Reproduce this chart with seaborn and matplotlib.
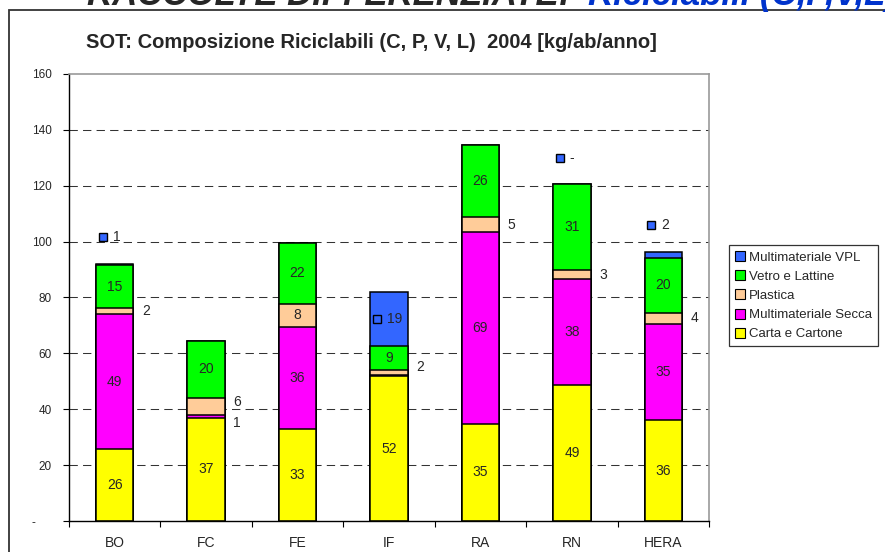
import numpy as np
import matplotlib
matplotlib.use('Agg')
import matplotlib.pyplot as plt
from matplotlib.patches import Patch, Rectangle
import seaborn as sns


sns.set_theme(style='white')
plt.rcParams['font.family'] = ['Liberation Sans', 'DejaVu Sans']

# dati (kg/ab/anno)
comuni = ['BO', 'FC', 'FE', 'IF', 'RA', 'RN', 'HERA']
carta = [25.6, 36.9, 33.1, 51.8, 34.8, 48.6, 36.0]
secca = [48.6, 1.2, 36.3, 0.5, 68.6, 37.9, 34.6]
plastica = [1.9, 6.0, 8.4, 1.6, 5.4, 3.4, 3.9]
vetro = [15.4, 20.4, 21.6, 8.6, 25.7, 30.7, 19.8]
vpl = [0.6, np.nan, np.nan, 19.4, np.nan, 0.0, 2.1]

serie = ['Carta e Cartone', 'Multimateriale Secca', 'Plastica',
         'Vetro e Lattine', 'Multimateriale VPL']
colori = ['#FFFF00', '#FF00FF', '#FFCC99', '#00FF00', '#3366FF']
yticks = [0, 20, 40, 60, 80, 100, 120, 140, 160]
ytick_labels = ['-     ', '20', '40', '60', '80', '100', '120', '140', '160']

# spostamento verticale di alcune etichette esterne
nudge = {('FC', 'Plastica'): 1.4, ('FC', 'Multimateriale Secca'): -2.6,
         ('IF', 'Plastica'): 2.2}

valori = np.array([carta, secca, plastica, vetro,
                   np.nan_to_num(vpl)])
cum = valori.cumsum(axis=0)

fig = plt.figure(figsize=(8.85, 5.52), dpi=100)
ax = fig.add_axes([69 / 885, 1 - 521 / 552, 640 / 885, 447 / 552])

# barre cumulative, dalla piu alta alla piu bassa
for i in range(len(serie) - 1, -1, -1):
    sns.barplot(x=comuni, y=cum[i], color=colori[i], saturation=1,
                edgecolor='black', linewidth=1.1, width=0.41, ax=ax)

x = np.arange(len(comuni))
for i, nome in enumerate(serie[:-1]):
    for j, c in enumerate(comuni):
        v = valori[i, j]
        if v < 1:
            continue
        centro = cum[i, j] - v / 2
        if v < 7:
            ax.text(x[j] + 0.34, centro + nudge.get((c, nome), 0),
                    f'{v:.0f}', ha='center', va='center', fontsize=10)
        else:
            ax.text(x[j], centro, f'{v:.0f}', ha='center', va='center',
                    fontsize=10)

# etichette VPL con chiave di legenda
for j, v in enumerate(vpl):
    if np.isnan(v):
        continue
    if v > 5:
        y = cum[3, j] + v / 2
    else:
        y = cum[4, j] + 9.5
    ax.plot(x[j] - 0.13, y, marker='s', ms=6, mfc=colori[4], mec='black',
            mew=1, ls='none')
    ax.annotate(f'{v:.0f}' if v >= 0.5 else '-', (x[j] - 0.13, y),
                xytext=(7, 0), textcoords='offset points', ha='left',
                va='center', fontsize=10)

ax.set_xlim(-0.5, len(comuni) - 0.5)
ax.set_ylim(0, 160)
ax.set_yticks(yticks)
ax.set_yticklabels(ytick_labels)
ax.set_xticks(x)
ax.set_xticks(np.arange(-0.5, len(comuni)), minor=True)
ax.tick_params(axis='x', which='major', length=0, pad=11, labelsize=10)
ax.tick_params(axis='x', which='minor', bottom=True, length=4.5,
               width=0.8, color='black', direction='out')
ax.tick_params(axis='y', left=True, length=4.5, width=0.8, color='black',
               direction='out', pad=8, labelsize=8.5)
ax.set_xlabel('')
ax.set_ylabel('')

for g in yticks[1:-1]:
    ax.axhline(g, color='#333333', lw=0.75, ls=(0, (8, 5)), zorder=0)
ax.set_axisbelow(True)

for s in ['left', 'bottom']:
    ax.spines[s].set_color('black')
    ax.spines[s].set_linewidth(1)
for s in ['top', 'right']:
    ax.spines[s].set_color('#999999')
    ax.spines[s].set_linewidth(1.2)

handles = [Patch(facecolor=colori[i], edgecolor='black', lw=0.8,
                 label=serie[i]) for i in range(len(serie) - 1, -1, -1)]
leg = fig.legend(handles=handles, loc='upper left',
                 bbox_to_anchor=(729 / 885, 1 - 245 / 552),
                 bbox_transform=fig.transFigure, fontsize=9.5,
                 frameon=True, fancybox=False, framealpha=1,
                 edgecolor='#333333', handlelength=0.8, handleheight=0.8,
                 handletextpad=0.25, labelspacing=0.5, borderpad=0.45,
                 borderaxespad=0)
leg.get_frame().set_linewidth(0.9)

fig.add_artist(Rectangle((9 / 885, -0.05), 1.2, 1 - 10 / 552 + 0.05,
                         transform=fig.transFigure, fill=False,
                         edgecolor='#333333', lw=1.3))

fig.text(87 / 885, 1 - 5 / 552, 'RACCOLTE DIFFERENZIATE:', fontsize=25,
         fontweight='bold', fontstyle='italic', va='baseline')
fig.text(588 / 885, 1 - 5 / 552, 'Riciclabili (C,P,V,L)', fontsize=25,
         fontweight='bold', fontstyle='italic', va='baseline',
         color='#0033CC')
fig.text(86 / 885, 1 - 43 / 552,
         'SOT: Composizione Riciclabili (C, P, V, L)  2004 [kg/ab/anno]',
         fontsize=14.5, fontweight='bold', va='center', ha='left')

fig.savefig('out.png', dpi=100)
